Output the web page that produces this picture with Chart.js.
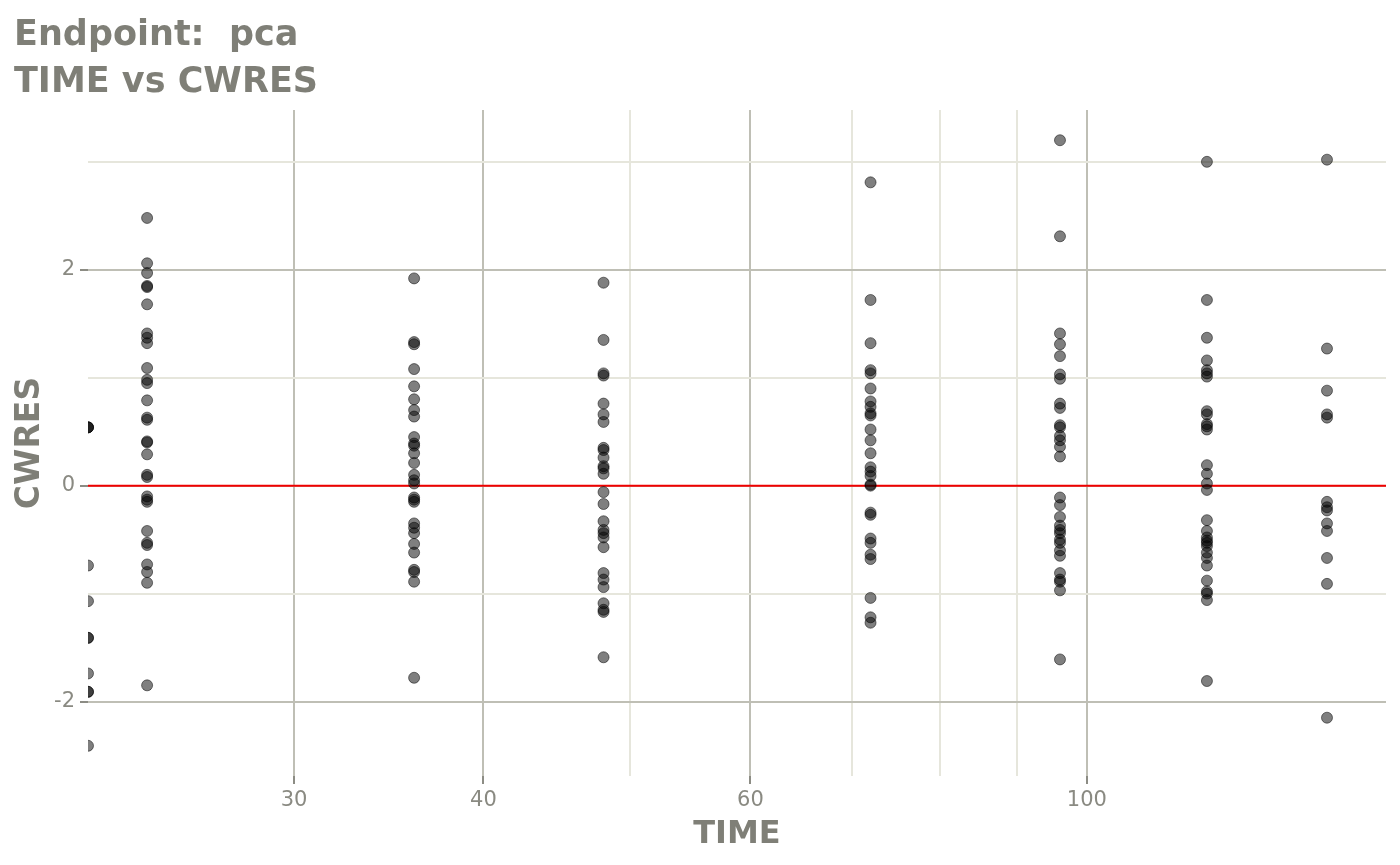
<!DOCTYPE html>
<html>
<head>
<meta charset="utf-8">
<title>TIME vs CWRES</title>
<script src="https://cdn.jsdelivr.net/npm/chart.js@4.4.0/dist/chart.umd.min.js"></script>
<style>
  html, body { margin: 0; padding: 0; background: #fff; }
  #wrap { width: 1400px; height: 865px; position: relative; }
</style>
</head>
<body>
<div id="wrap"><canvas id="chart"></canvas></div>
<script>
// Valores (CWRES por tiempo nominal)
const TIMES = [24, 36, 48, 72, 96, 120, 144];
// puntos por debajo del límite del eje, aplastados contra el borde izquierdo
const CWRES_EDGE = [0.54, 0.54, 0.54, -0.74, -1.07, -1.41, -1.41, -1.74, -1.91, -1.91, -2.41];
const CWRES_24 = [2.48, 2.06, 1.97, 1.85, 1.84, 1.68, 1.41, 1.37, 1.32, 1.09, 0.98, 0.95, 0.79, 0.63, 0.61,
                  0.41, 0.40, 0.29, 0.10, 0.08, -0.10, -0.13, -0.15, -0.42, -0.53, -0.55, -0.73, -0.80, -0.90, -1.85];
const CWRES_36 = [1.92, 1.33, 1.31, 1.08, 0.92, 0.80, 0.70, 0.64, 0.45, 0.39, 0.37, 0.30, 0.21, 0.10, 0.05, 0.02,
                  -0.11, -0.13, -0.15, -0.35, -0.39, -0.44, -0.54, -0.62, -0.78, -0.80, -0.89, -1.78];
const CWRES_48 = [1.88, 1.35, 1.04, 1.02, 0.76, 0.66, 0.59, 0.35, 0.33, 0.26, 0.18, 0.16, 0.11, -0.06, -0.17,
                  -0.33, -0.41, -0.44, -0.48, -0.57, -0.81, -0.87, -0.94, -1.09, -1.15, -1.17, -1.59];
const CWRES_72 = [2.81, 1.72, 1.32, 1.07, 1.04, 0.90, 0.78, 0.73, 0.67, 0.65, 0.52, 0.42, 0.30, 0.17, 0.13, 0.09,
                  0.01, 0.00, -0.25, -0.27, -0.49, -0.53, -0.64, -0.68, -1.04, -1.22, -1.27];
const CWRES_96 = [3.20, 2.31, 1.41, 1.31, 1.20, 1.03, 0.99, 0.76, 0.72, 0.56, 0.54, 0.46, 0.42, 0.36, 0.27,
                  -0.11, -0.18, -0.29, -0.37, -0.41, -0.44, -0.50, -0.53, -0.60, -0.65, -0.81, -0.87, -0.89, -0.97, -1.61];
const CWRES_120 = [3.00, 1.72, 1.37, 1.16, 1.07, 1.04, 1.01, 0.69, 0.66, 0.57, 0.55, 0.52, 0.19, 0.11, 0.02, -0.04,
                   -0.32, -0.42, -0.48, -0.51, -0.53, -0.56, -0.62, -0.67, -0.74, -0.88, -0.98, -1.00, -1.06, -1.81];
const CWRES_144 = [3.02, 1.27, 0.88, 0.66, 0.63, -0.15, -0.20, -0.23, -0.35, -0.42, -0.67, -0.91, -2.15];

const X_LIMITS = [21.94, 157.5];
const Y_LIMITS = [-2.69, 3.48];
const X_BREAKS = [30, 40, 60, 100];
const X_MINOR = [50, 70, 80, 90];
const Y_BREAKS = [-2, 0, 2];
const Y_MINOR = [-1, 1, 3];
const HLINE = 0;

const TITLE_LINES = ['Endpoint:  pca', 'TIME vs CWRES'];

document.addEventListener('DOMContentLoaded', () => {
    const FONT = 'DejaVu Sans';
    const GREY_TXT = '#7f7f77';
    const GREY_TICK = '#8a8a82';
    const GRID_MAJOR = '#bfbfb5';
    const GRID_MINOR = '#e6e6dc';

    const byTime = [CWRES_24, CWRES_36, CWRES_48, CWRES_72, CWRES_96, CWRES_120, CWRES_144];
    const points = [];
    CWRES_EDGE.forEach(v => points.push({ x: X_LIMITS[0], y: v }));
    TIMES.forEach((t, i) => byTime[i].forEach(v => points.push({ x: t, y: v })));

    const gridColor = majors => c => majors.includes(c.tick.value) ? GRID_MAJOR : GRID_MINOR;
    const tickColor = majors => c => majors.includes(c.tick.value) ? '#8c8c84' : 'rgba(0,0,0,0)';

    new Chart(document.getElementById('chart'), {
        type: 'scatter',
        data: {
            datasets: [
                {
                    type: 'line',
                    data: [{ x: X_LIMITS[0], y: HLINE }, { x: X_LIMITS[1], y: HLINE }],
                    borderColor: '#f00000',
                    borderWidth: 2,
                    pointRadius: 0,
                    order: 2
                },
                {
                    data: points,
                    backgroundColor: 'rgba(0,0,0,0.5)',
                    borderColor: 'rgba(0,0,0,0.5)',
                    borderWidth: 1,
                    pointRadius: 5.5,
                    clip: 0,
                    order: 1
                }
            ]
        },
        options: {
            responsive: true,
            maintainAspectRatio: false,
            animation: false,
            events: [],
            layout: { padding: { left: 14, right: 14, top: 0, bottom: 0 } },
            plugins: {
                legend: { display: false },
                tooltip: { enabled: false },
                title: {
                    display: true,
                    text: TITLE_LINES,
                    align: 'start',
                    color: GREY_TXT,
                    font: { family: FONT, size: 35, weight: 'bold', lineHeight: 1.343 },
                    padding: { top: 12, bottom: 4 }
                }
            },
            scales: {
                x: {
                    type: 'logarithmic',
                    min: X_LIMITS[0],
                    max: X_LIMITS[1],
                    afterBuildTicks: s => {
                        s.ticks = [...X_BREAKS, ...X_MINOR].sort((a, b) => a - b).map(v => ({ value: v }));
                    },
                    afterFit: s => { s.height = 89; },
                    border: { display: false },
                    grid: {
                        color: gridColor(X_BREAKS),
                        lineWidth: 2,
                        tickLength: 8,
                        tickWidth: 2,
                        tickColor: tickColor(X_BREAKS)
                    },
                    ticks: {
                        autoSkip: false,
                        maxRotation: 0,
                        color: GREY_TICK,
                        padding: 4,
                        font: { family: FONT, size: 21 },
                        callback: v => X_BREAKS.includes(v) ? String(v) : ''
                    },
                    title: {
                        display: true,
                        text: 'TIME',
                        color: GREY_TXT,
                        font: { family: FONT, size: 32, weight: 'bold', lineHeight: 1.2 },
                        padding: { top: 0, bottom: 11 }
                    }
                },
                y: {
                    min: Y_LIMITS[0],
                    max: Y_LIMITS[1],
                    afterBuildTicks: s => {
                        s.ticks = [...Y_BREAKS, ...Y_MINOR].sort((a, b) => a - b).map(v => ({ value: v }));
                    },
                    afterFit: s => { s.width = 74; },
                    border: { display: false },
                    grid: {
                        color: gridColor(Y_BREAKS),
                        lineWidth: 2,
                        tickLength: 8,
                        tickWidth: 2,
                        tickColor: tickColor(Y_BREAKS)
                    },
                    ticks: {
                        autoSkip: false,
                        color: GREY_TICK,
                        padding: 5,
                        font: { family: FONT, size: 21 },
                        callback: v => Y_BREAKS.includes(v) ? String(v) : ''
                    },
                    title: {
                        display: true,
                        text: 'CWRES',
                        color: GREY_TXT,
                        font: { family: FONT, size: 33, weight: 'bold', lineHeight: 1 },
                        padding: 0
                    }
                }
            }
        }
    });
});
</script>
</body>
</html>
